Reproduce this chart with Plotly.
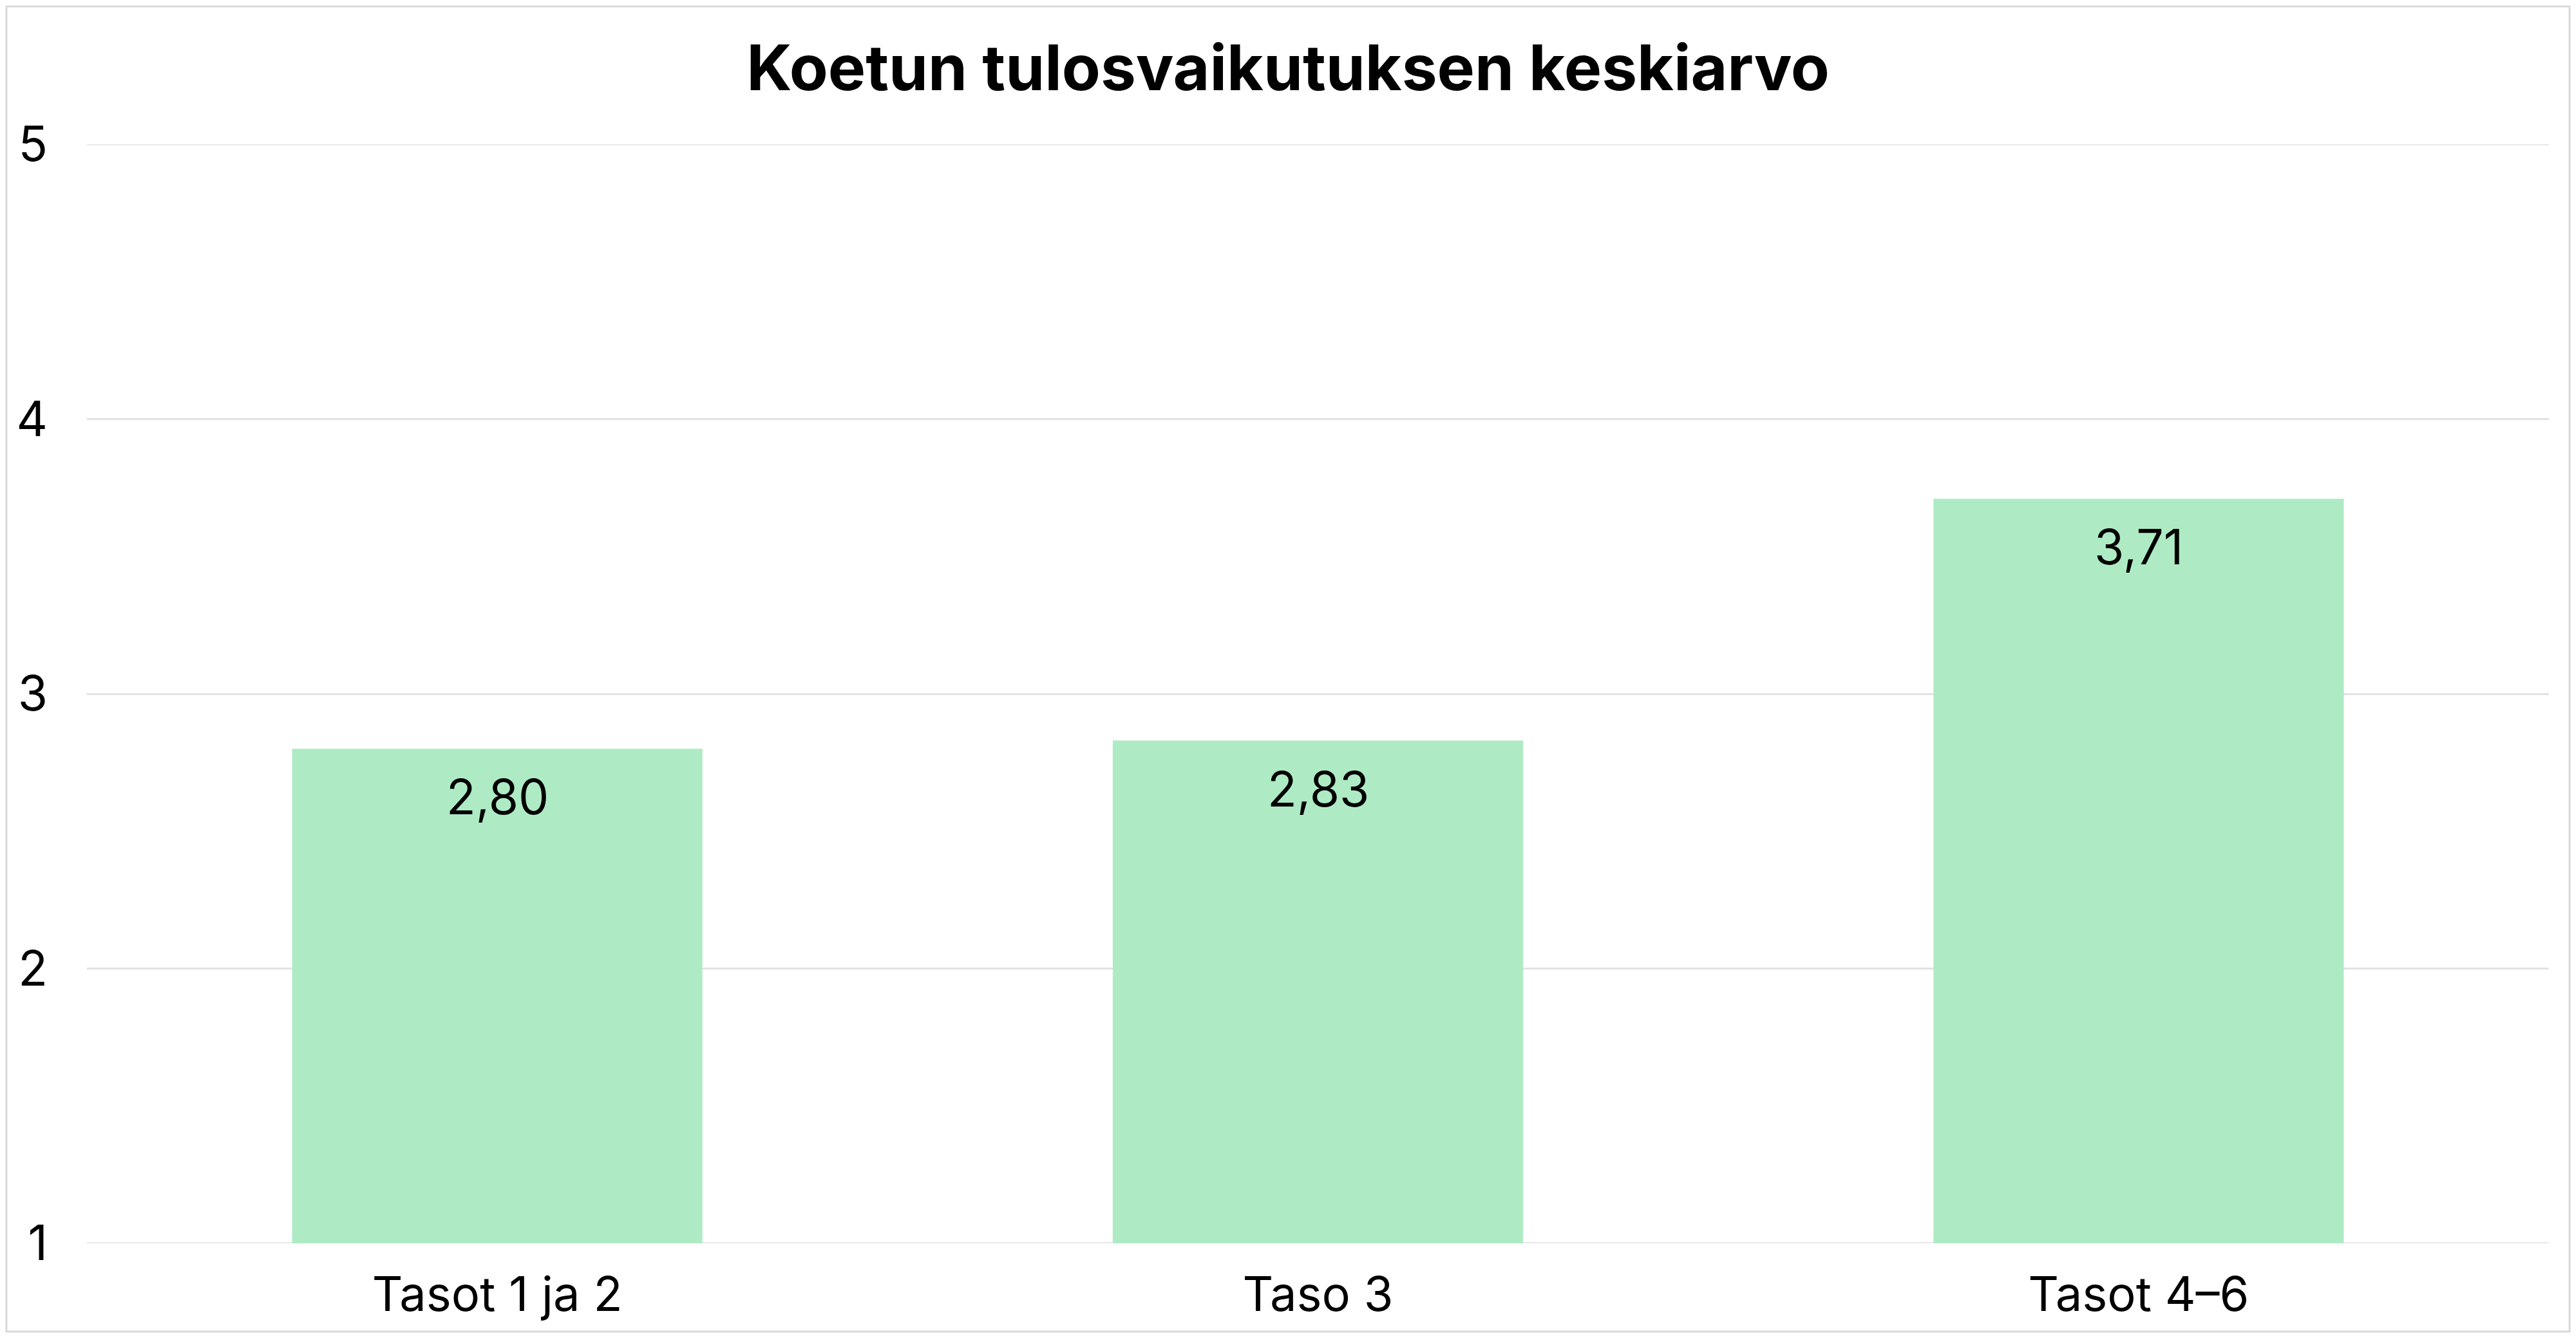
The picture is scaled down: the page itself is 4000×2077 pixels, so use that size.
import plotly.graph_objects as go

categories = ["Tasot 1 ja 2", "Taso 3", "Tasot 4–6"]
values = [2.80, 2.83, 3.71]
value_labels = ["2,80", "2,83", "3,71"]
y_ticks = [1, 2, 3, 4, 5]
title_text = "Koetun tulosvaikutuksen keskiarvo"

# page body has an 8px default margin; size the figure so it fits the window
W, H = 3984, 2061
L, R, T, B = 127, 34, 216, 139

BAR = "#AEEBC4"
GRID = "#e2e2e2"
FONT = "Inter"

fig = go.Figure()
fig.add_trace(go.Bar(
    x=categories, y=values, marker=dict(color=BAR, line=dict(width=0)),
    width=0.5, hoverinfo="skip", showlegend=False,
))

for c, v, t in zip(categories, values, value_labels):
    fig.add_annotation(
        x=c, y=v, text=t, showarrow=False, yanchor="top", yshift=-27,
        font=dict(family=FONT, size=75, color="#000000"),
    )

# gridlines at the range ends (plotly skips grid lines on the plot edges)
for yv in (y_ticks[0], y_ticks[-1]):
    fig.add_shape(
        type="line", xref="paper", yref="y", x0=0, x1=1, y0=yv, y1=yv,
        line=dict(color=GRID, width=3), layer="below",
    )

# outer light border (near the figure edge)
pw, ph = W - L - R, H - T - B
fig.add_shape(
    type="rect", xref="paper", yref="paper",
    x0=(2 - L) / pw, x1=(W - 2 - L) / pw,
    y0=-(B - 2) / ph, y1=(H - B - 2) / ph,
    line=dict(color="#d9d9d9", width=3), fillcolor="rgba(0,0,0,0)", layer="below",
)

fig.update_layout(
    width=W, height=H,
    margin=dict(l=L, r=R, t=T, b=B, pad=0),
    paper_bgcolor="white", plot_bgcolor="white",
    title=dict(
        text=f"<b>{title_text}</b>", x=0.5, xref="container", xanchor="center",
        y=1 - 98 / H, yref="container", yanchor="middle",
        font=dict(family=FONT, size=98, color="#000000", weight=900),
    ),
    xaxis=dict(
        showgrid=False, zeroline=False, showline=False, ticks="",
        tickfont=dict(family=FONT, size=74, color="#000000"),
        ticklabelstandoff=30,
    ),
    yaxis=dict(
        range=[1, 5], tickvals=y_ticks, ticktext=[str(v) for v in y_ticks],
        showgrid=True, gridcolor=GRID, gridwidth=3, zeroline=False, showline=False,
        ticks="", tickfont=dict(family=FONT, size=75, color="#000000"),
        ticklabelstandoff=60,
    ),
    bargap=0.5,
)

fig.write_html("out.html")
